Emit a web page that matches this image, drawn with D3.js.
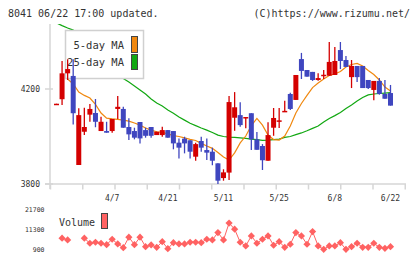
<!DOCTYPE html>
<html>
<meta charset="utf-8">
<head>
<script src="https://cdnjs.cloudflare.com/ajax/libs/d3/7.8.5/d3.min.js"></script>
<style>
    body { margin: 0; background: #fff; }
    text { font-family: "DejaVu Sans Mono", monospace; fill: #333; }
</style>
</head>
<body>
<script>

const width = 420,
    height = 259;

// trading days, 2020
const dates = [
    "3/24", "3/25", "3/26", "3/27", "3/30", "3/31",
    "4/1", "4/2", "4/3", "4/6", "4/7", "4/8", "4/9", "4/10", "4/13", "4/14", "4/15", "4/16", "4/17",
    "4/20", "4/21", "4/22", "4/23", "4/24", "4/27", "4/28", "4/30",
    "5/1", "5/7", "5/8", "5/11", "5/12", "5/13", "5/14", "5/15", "5/18", "5/19", "5/20", "5/21", "5/22",
    "5/25", "5/26", "5/27", "5/28", "5/29",
    "6/1", "6/2", "6/3", "6/4", "6/5", "6/8", "6/9", "6/10", "6/11", "6/12", "6/15", "6/16", "6/17",
    "6/18", "6/19", "6/22"
];
const dateLabels = ["4/7", "4/21", "5/11", "5/25", "6/8", "6/22"];
const priceTicks = [3800, 4200];
const volumeTicks = [900, 11300, 21700];

const open = [4136, 4157, 4266, 4255, 3880, 4020, 4092, 4099, 4023, 4023, 4023, 4116, 4116, 4040, 4023, 4061,
    4027, 4040, 4006, 4006, 4027, 4023, 3974, 3991, 3984, 3915, 3981, 3943, 3936, 3887, 3825, 3848, 4079,
    4090, 4079, 4098, 3988, 3960, 3898, 4037, 4064, 4106, 4179, 4154, 4326, 4280, 4272, 4238, 4257, 4256,
    4259, 4364, 4322, 4250, 4297, 4297, 4238, 4196, 4234, 4179, 4183];
const high = [4138, 4318, 4325, 4325, 4119, 4121, 4137, 4158, 4083, 4062, 4074, 4171, 4125, 4077, 4037, 4061,
    4037, 4040, 4020, 4041, 4027, 4023, 3992, 3999, 3984, 3974, 3999, 3992, 3953, 3887, 3862, 4171, 4187,
    4144, 4082, 4098, 4019, 3968, 4060, 4120, 4120, 4151, 4184, 4259, 4352, 4280, 4272, 4266, 4280, 4398,
    4377, 4398, 4339, 4322, 4297, 4297, 4238, 4234, 4246, 4238, 4217];
const low = [4136, 4133, 4238, 4051, 3880, 4006, 4062, 4039, 4023, 4016, 4016, 4074, 4037, 3985, 3988, 3971,
    3995, 3995, 4006, 3999, 3995, 3946, 3907, 3929, 3907, 3898, 3936, 3901, 3879, 3796, 3814, 3817, 4024,
    4041, 4035, 3943, 3944, 3859, 3898, 4003, 4036, 4106, 4112, 4154, 4242, 4252, 4234, 4235, 4242, 4255,
    4259, 4284, 4293, 4204, 4229, 4204, 4200, 4153, 4176, 4159, 4130];
const close = [4138, 4266, 4284, 4098, 4090, 4040, 4116, 4062, 4062, 4016, 4074, 4125, 4037, 4009, 3995, 3992,
    4003, 4003, 4020, 4027, 3995, 3971, 3953, 3971, 3936, 3968, 3953, 3932, 3898, 3814, 3849, 4145, 4123,
    4048, 4082, 3988, 3944, 3900, 4006, 4078, 4068, 4108, 4116, 4259, 4276, 4252, 4238, 4246, 4260, 4314,
    4318, 4318, 4293, 4297, 4250, 4204, 4204, 4234, 4179, 4159, 4130];

const ma5 = [null, null, 4242, 4221, 4187, 4173, 4162, 4135, 4099, 4077, 4074, 4072, 4069, 4065, 4057, 4048,
    4036, 4027, 4020, 4017, 4011, 4004, 4000, 3994, 3988, 3983, 3971, 3960, 3950, 3933, 3914, 3901, 3931,
    3973, 4002, 4046, 4076, 4048, 4006, 3987, 3985, 4002, 4044, 4099, 4139, 4173, 4206, 4225, 4242, 4257,
    4263, 4274, 4293, 4303, 4308, 4297, 4278, 4261, 4238, 4208, 4192];
const ma25 = [4478, 4467, 4457, 4448, 4427, 4402, 4381, 4356, 4335, 4309, 4288, 4267, 4244, 4229, 4213, 4196,
    4179, 4158, 4141, 4128, 4112, 4098, 4082, 4069, 4056, 4046, 4036, 4027, 4017, 4006, 4000, 3997, 3996,
    3994, 3992, 3989, 3987, 3984, 3985, 3987, 3989, 3996, 4000, 4008, 4015, 4024, 4034, 4044, 4061, 4076,
    4088, 4101, 4118, 4133, 4149, 4164, 4175, 4179, 4181, 4183, 4185];

const volume = [null, 6620, 5740, null, null, 6620, 4020, 4540, 4020, 3290, 6100, 3660, 1730, 7140, 3290, 7140,
    2250, 3140, 1940, 4850, 1210, 4330, 3660, 3660, 4540, 4540, 4330, 6100, 5740, 9530, 5740, 14420, 11300,
    4540, 2620, 7820, 4020, 6100, 7820, 2980, 4850, 1940, 3500, 9530, 7820, 3500, 10050, 2620, 900, 2620,
    2620, 4330, 900, 2250, 4020, 1940, 1940, 4020, 1940, 1420, 2250];

const red = "#d40000",
    blue = "#3f46bf",
    orange = "#f0880f",
    green = "#12a812",
    volColour = "#ff6262",
    axisColour = "#d6d6d6";

const svg = d3.select("body")
    .append("svg")
    .attr("width", width)
    .attr("height", height);

const x = d3.scalePoint().domain(dates).range([56.5, 390.5]);
const y = d3.scaleLinear().domain([3800, 4200]).range([184, 89]);
const yv = d3.scaleLinear().domain([900, 21700]).range([249.3, 209]);

svg.append("clipPath").attr("id", "plot")
    .append("rect").attr("x", 50).attr("y", 24).attr("width", 356).attr("height", 160);

// header
svg.append("text").attr("x", 8).attr("y", 17).attr("font-size", "10px").text("8041 06/22 17:00 updated.");
svg.append("text").attr("x", 410).attr("y", 17).attr("text-anchor", "end").attr("font-size", "10px")
    .text("(C)https://www.rizumu.net/");

// axes
svg.append("line").attr("x1", 50).attr("x2", 50).attr("y1", 24).attr("y2", 189)
    .attr("stroke", axisColour).attr("stroke-width", 1.5);
svg.append("line").attr("x1", 45).attr("x2", 406).attr("y1", 184).attr("y2", 184)
    .attr("stroke", axisColour).attr("stroke-width", 1.5);
svg.selectAll(".xtick")
    .data(d3.range(12))
    .enter()
    .append("line")
    .attr("x1", i => 50.5 + i * 32.25)
    .attr("x2", i => 50.5 + i * 32.25)
    .attr("y1", 184)
    .attr("y2", 189.5)
    .attr("stroke", axisColour)
    .attr("stroke-width", 1.5);
svg.selectAll(".ytick")
    .data(priceTicks)
    .enter()
    .append("line")
    .attr("x1", 45)
    .attr("x2", 53)
    .attr("y1", d => y(d))
    .attr("y2", d => y(d))
    .attr("stroke", axisColour)
    .attr("stroke-width", 1.5);
svg.selectAll(".ylabel")
    .data(priceTicks)
    .enter()
    .append("text")
    .attr("x", 40)
    .attr("y", d => y(d) + 3)
    .attr("text-anchor", "end")
    .attr("font-size", "8px")
    .text(d => d);
svg.selectAll(".xlabel")
    .data(dateLabels)
    .enter()
    .append("text")
    .attr("x", d => x(d))
    .attr("y", 201)
    .attr("text-anchor", "middle")
    .attr("font-size", "8px")
    .text(d => d);

// moving averages (under the legend box)
const idx = d3.range(dates.length);
const plot = svg.append("g").attr("clip-path", "url(#plot)");
[[ma25, green], [ma5, orange]].forEach(([series, colour]) => {
    plot.append("path")
        .datum(idx)
        .attr("fill", "none")
        .attr("stroke", colour)
        .attr("stroke-width", 1.2)
        .attr("d", d3.line()
            .defined(i => series[i] != null)
            .x(i => x(dates[i]))
            .y(i => y(series[i])));
});

// legend box
svg.append("rect").attr("x", 65.5).attr("y", 30.5).attr("width", 78).attr("height", 48)
    .attr("fill", "#fff").attr("stroke", "#d0d0d0").attr("stroke-width", 1.5);
svg.append("text").attr("x", 124).attr("y", 49).attr("text-anchor", "end").attr("font-size", "10.5px").text("5-day MA");
svg.append("text").attr("x", 124).attr("y", 66).attr("text-anchor", "end").attr("font-size", "10.5px").text("25-day MA");
svg.append("rect").attr("x", 131.5).attr("y", 36.5).attr("width", 6).attr("height", 16)
    .attr("fill", orange).attr("stroke", "#444");
svg.append("rect").attr("x", 131.5).attr("y", 54.5).attr("width", 6).attr("height", 15)
    .attr("fill", green).attr("stroke", "#444");

// candlesticks
const candles = svg.append("g").attr("clip-path", "url(#plot)");
candles.selectAll(".wick")
    .data(idx)
    .enter()
    .append("line")
    .attr("x1", i => x(dates[i]))
    .attr("x2", i => x(dates[i]))
    .attr("y1", i => y(high[i]))
    .attr("y2", i => y(low[i]))
    .attr("stroke", i => close[i] >= open[i] ? red : blue)
    .attr("stroke-width", 1.3);
candles.selectAll(".body")
    .data(idx)
    .enter()
    .append("rect")
    .attr("x", i => x(dates[i]) - 2.5)
    .attr("y", i => y(Math.max(open[i], close[i])))
    .attr("width", 5)
    .attr("height", i => Math.max(1.5, Math.abs(y(open[i]) - y(close[i]))))
    .attr("fill", i => close[i] >= open[i] ? red : blue);

// volume
svg.selectAll(".vlabel")
    .data(volumeTicks)
    .enter()
    .append("text")
    .attr("x", 44.5)
    .attr("y", d => yv(d) + 2.5)
    .attr("text-anchor", "end")
    .attr("font-size", "6.5px")
    .text(d => d);
svg.append("path")
    .datum(idx)
    .attr("fill", "none")
    .attr("stroke", volColour)
    .attr("stroke-width", 1)
    .attr("d", d3.line()
        .defined(i => volume[i] != null)
        .x(i => x(dates[i]))
        .y(i => yv(volume[i])));
svg.selectAll(".vmark")
    .data(idx.filter(i => volume[i] != null))
    .enter()
    .append("path")
    .attr("transform", i => `translate(${x(dates[i])},${yv(volume[i])})`)
    .attr("d", "M0,-3.6L3.6,0L0,3.6L-3.6,0Z")
    .attr("fill", volColour);
svg.append("text").attr("x", 59).attr("y", 226).attr("font-size", "10px").text("Volume");
svg.append("rect").attr("x", 101.5).attr("y", 213.5).attr("width", 6).attr("height", 15)
    .attr("fill", volColour).attr("stroke", "#444");

</script>
</body>
</html>
